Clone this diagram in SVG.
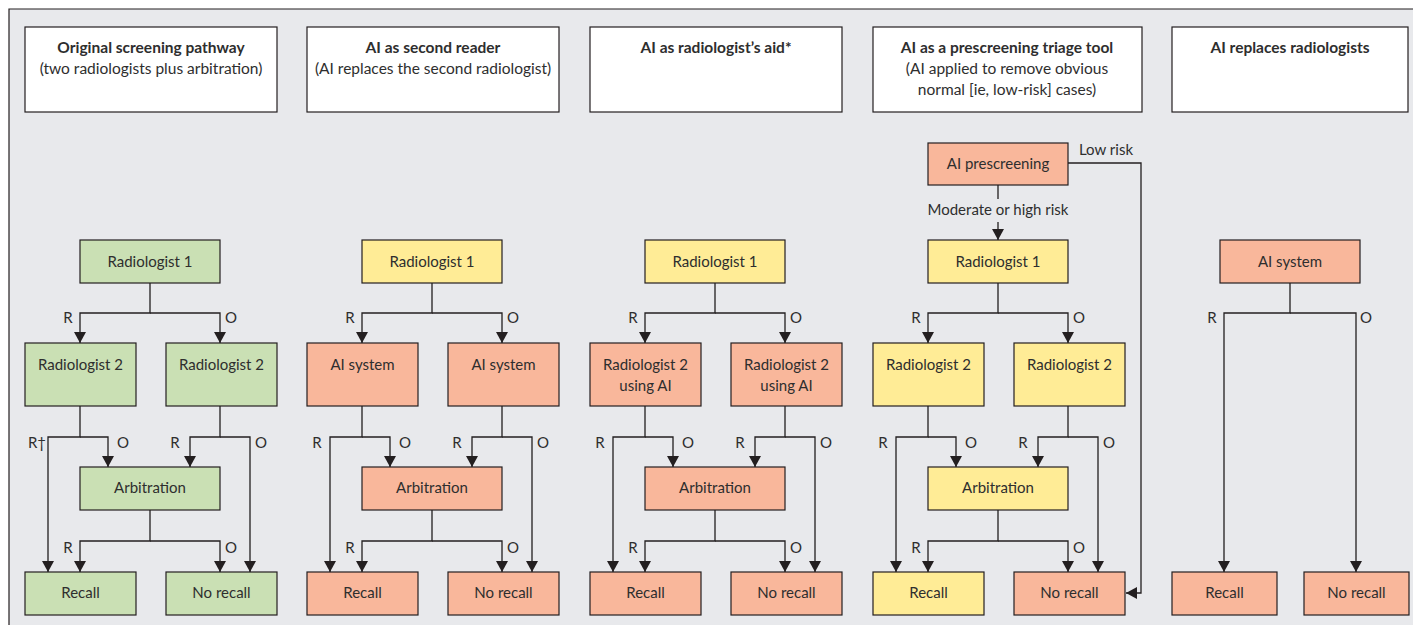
<svg xmlns="http://www.w3.org/2000/svg" width="1413" height="625" viewBox="0 0 1413 625">
<style>
text{font-family:Lato,"Open Sans","Liberation Sans",sans-serif;font-size:15px;fill:#2e2e2e;text-anchor:middle}
.h text{font-size:15.5px}
.t{font-weight:bold}
.hd{fill:#ffffff;stroke:#231f20;stroke-width:1.2}
.g{fill:#cae0b4;stroke:#231f20;stroke-width:1.2}
.y{fill:#ffec96;stroke:#231f20;stroke-width:1.2}
.s{fill:#f9b79b;stroke:#231f20;stroke-width:1.2}
.c path{fill:none;stroke:#231f20;stroke-width:1.3;marker-end:url(#ah)}
.c path.n{marker-end:none}
</style>
<defs>
<marker id="ah" viewBox="0 0 10 10" refX="10" refY="5" markerWidth="11" markerHeight="12" orient="auto" markerUnits="userSpaceOnUse" preserveAspectRatio="none">
<path d="M0,0 L10,5 L0,10 z" fill="#231f20"/>
</marker>
</defs>
<rect x="0" y="0" width="1413" height="625" fill="#ffffff"/>
<rect x="9" y="9" width="1404" height="616" fill="#e8e9ec"/>
<path d="M9,625 V9 H1413" fill="none" stroke="#231f20" stroke-width="1.2"/>

<!-- headers -->
<g id="header1" class="h"><rect class="hd" x="25" y="27" width="252" height="85"/><text class="t" x="151" y="53">Original screening pathway</text><text x="151" y="74">(two radiologists plus arbitration)</text></g>
<g id="header2" class="h"><rect class="hd" x="307" y="27" width="252" height="85"/><text class="t" x="433" y="53">AI as second reader</text><text x="433" y="74">(AI replaces the second radiologist)</text></g>
<g id="header3" class="h"><rect class="hd" x="590" y="27" width="252" height="85"/><text class="t" x="716" y="53">AI as radiologist’s aid*</text></g>
<g id="header4" class="h"><rect class="hd" x="873" y="27" width="269" height="85"/><text class="t" x="1007" y="53">AI as a prescreening triage tool</text><text x="1007" y="74">(AI applied to remove obvious</text><text x="1007" y="95">normal [ie, low-risk] cases)</text></g>
<g id="header5" class="h"><rect class="hd" x="1172" y="27" width="236" height="85"/><text class="t" x="1290" y="53">AI replaces radiologists</text></g>

<!-- column 1 -->
<g id="c1-radiologist1"><rect class="g" x="80" y="240" width="140" height="43"/><text x="150" y="267">Radiologist 1</text></g>
<g id="c1-radiologist2a"><rect class="g" x="25" y="343" width="111" height="63"/><text x="80.5" y="370">Radiologist 2</text></g>
<g id="c1-radiologist2b"><rect class="g" x="166" y="343" width="111" height="63"/><text x="221.5" y="370">Radiologist 2</text></g>
<g id="c1-arbitration"><rect class="g" x="80" y="467" width="140" height="43"/><text x="150" y="493">Arbitration</text></g>
<g id="c1-recall"><rect class="g" x="25" y="572" width="111" height="43"/><text x="80.5" y="598">Recall</text></g>
<g id="c1-norecall"><rect class="g" x="166" y="572" width="111" height="43"/><text x="221.5" y="598">No recall</text></g>

<!-- column 2 -->
<g id="c2-radiologist1"><rect class="y" x="362" y="240" width="140" height="43"/><text x="432" y="267">Radiologist 1</text></g>
<g id="c2-ai-a"><rect class="s" x="307" y="343" width="111" height="63"/><text x="362.5" y="370">AI system</text></g>
<g id="c2-ai-b"><rect class="s" x="448" y="343" width="111" height="63"/><text x="503.5" y="370">AI system</text></g>
<g id="c2-arbitration"><rect class="s" x="362" y="467" width="140" height="43"/><text x="432" y="493">Arbitration</text></g>
<g id="c2-recall"><rect class="s" x="307" y="572" width="111" height="43"/><text x="362.5" y="598">Recall</text></g>
<g id="c2-norecall"><rect class="s" x="448" y="572" width="111" height="43"/><text x="503.5" y="598">No recall</text></g>

<!-- column 3 -->
<g id="c3-radiologist1"><rect class="y" x="645" y="240" width="140" height="43"/><text x="715" y="267">Radiologist 1</text></g>
<g id="c3-rad2ai-a"><rect class="s" x="590" y="343" width="111" height="63"/><text x="645.5" y="370">Radiologist 2</text><text x="645.5" y="391">using AI</text></g>
<g id="c3-rad2ai-b"><rect class="s" x="731" y="343" width="111" height="63"/><text x="786.5" y="370">Radiologist 2</text><text x="786.5" y="391">using AI</text></g>
<g id="c3-arbitration"><rect class="s" x="645" y="467" width="140" height="43"/><text x="715" y="493">Arbitration</text></g>
<g id="c3-recall"><rect class="s" x="590" y="572" width="111" height="43"/><text x="645.5" y="598">Recall</text></g>
<g id="c3-norecall"><rect class="s" x="731" y="572" width="111" height="43"/><text x="786.5" y="598">No recall</text></g>

<!-- column 4 -->
<g id="c4-prescreening"><rect class="s" x="928" y="143" width="140" height="42"/><text x="998" y="169">AI prescreening</text></g>
<g id="c4-radiologist1"><rect class="y" x="928" y="240" width="140" height="43"/><text x="998" y="267">Radiologist 1</text></g>
<g id="c4-radiologist2a"><rect class="y" x="873" y="343" width="111" height="63"/><text x="928.5" y="370">Radiologist 2</text></g>
<g id="c4-radiologist2b"><rect class="y" x="1014" y="343" width="111" height="63"/><text x="1069.5" y="370">Radiologist 2</text></g>
<g id="c4-arbitration"><rect class="y" x="928" y="467" width="140" height="43"/><text x="998" y="493">Arbitration</text></g>
<g id="c4-recall"><rect class="y" x="873" y="572" width="111" height="43"/><text x="928.5" y="598">Recall</text></g>
<g id="c4-norecall"><rect class="s" x="1014" y="572" width="111" height="43"/><text x="1069.5" y="598">No recall</text></g>

<!-- column 5 -->
<g id="c5-ai"><rect class="s" x="1220" y="240" width="140" height="43"/><text x="1290" y="267">AI system</text></g>
<g id="c5-recall"><rect class="s" x="1172" y="572" width="105" height="43"/><text x="1224.5" y="598">Recall</text></g>
<g id="c5-norecall"><rect class="s" x="1304" y="572" width="105" height="43"/><text x="1356.5" y="598">No recall</text></g>

<!-- connectors -->
<g id="connectors" class="c">
<g id="conn-c1">
<path d="M150,283 V313 H80 V343"/><path d="M150,313 H220 V343"/>
<path d="M80,406 V437 H48 V572"/><path d="M80,437 H108 V467"/>
<path d="M220,406 V437 H190 V467"/><path d="M220,437 H250 V572"/>
<path d="M150,510 V541 H80 V572"/><path d="M150,541 H220 V572"/>
</g>
<g id="conn-c2">
<path d="M432,283 V313 H362 V343"/><path d="M432,313 H502 V343"/>
<path d="M362,406 V437 H330 V572"/><path d="M362,437 H390 V467"/>
<path d="M502,406 V437 H472 V467"/><path d="M502,437 H532 V572"/>
<path d="M432,510 V541 H362 V572"/><path d="M432,541 H502 V572"/>
</g>
<g id="conn-c3">
<path d="M715,283 V313 H645 V343"/><path d="M715,313 H785 V343"/>
<path d="M645,406 V437 H613 V572"/><path d="M645,437 H673 V467"/>
<path d="M785,406 V437 H755 V467"/><path d="M785,437 H815 V572"/>
<path d="M715,510 V541 H645 V572"/><path d="M715,541 H785 V572"/>
</g>
<g id="conn-c4">
<path class="n" d="M998,185 V199"/><path d="M998,222 V240"/>
<path d="M1068,163 H1141 V593 H1126"/>
<path d="M998,283 V313 H928 V343"/><path d="M998,313 H1068 V343"/>
<path d="M928,406 V437 H896 V572"/><path d="M928,437 H956 V467"/>
<path d="M1068,406 V437 H1038 V467"/><path d="M1068,437 H1098 V572"/>
<path d="M998,510 V541 H928 V572"/><path d="M998,541 H1068 V572"/>
</g>
<g id="conn-c5">
<path d="M1290,283 V313 H1224 V572"/><path d="M1290,313 H1356 V572"/>
</g>
</g>

<!-- connector labels -->
<g id="labels">
<text x="68" y="323">R</text><text x="231" y="323">O</text>
<text x="37" y="448">R†</text><text x="123" y="448">O</text><text x="175" y="448">R</text><text x="261" y="448">O</text>
<text x="68" y="553">R</text><text x="231" y="553">O</text>

<text x="350" y="323">R</text><text x="513" y="323">O</text>
<text x="317" y="448">R</text><text x="405" y="448">O</text><text x="457" y="448">R</text><text x="543" y="448">O</text>
<text x="350" y="553">R</text><text x="513" y="553">O</text>

<text x="633" y="323">R</text><text x="796" y="323">O</text>
<text x="600" y="448">R</text><text x="688" y="448">O</text><text x="740" y="448">R</text><text x="826" y="448">O</text>
<text x="633" y="553">R</text><text x="796" y="553">O</text>

<text x="916" y="323">R</text><text x="1079" y="323">O</text>
<text x="883" y="448">R</text><text x="971" y="448">O</text><text x="1023" y="448">R</text><text x="1109" y="448">O</text>
<text x="916" y="553">R</text><text x="1079" y="553">O</text>
<text x="998" y="215">Moderate or high risk</text>
<text x="1106" y="155">Low risk</text>

<text x="1212" y="323">R</text><text x="1366" y="323">O</text>
</g>
</svg>
